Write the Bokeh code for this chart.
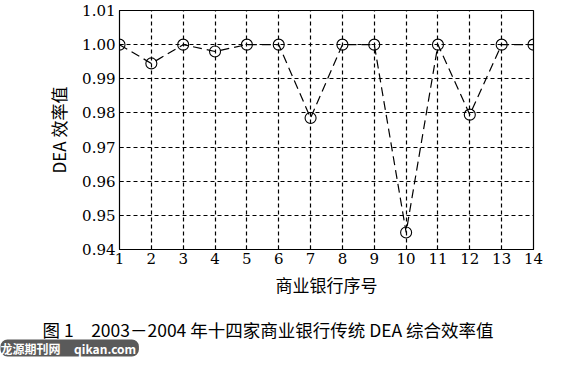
from bokeh.plotting import figure
from bokeh.models import FixedTicker, Range1d, PrintfTickFormatter, Title
from bokeh.embed import file_html
from bokeh.resources import INLINE

banks = list(range(1, 15))
efficiency = [1.000, 0.9945, 1.000, 0.998, 1.000, 1.000, 0.9785,
              1.000, 1.000, 0.945, 1.000, 0.9795, 1.000, 1.000]
y_ticks = [0.94, 0.95, 0.96, 0.97, 0.98, 0.99, 1.00, 1.01]
x_label = "商业银行序号"
y_label = "DEA 效率值"
caption = "图 1　2003－2004 年十四家商业银行传统 DEA 综合效率值"
watermark = "龙源期刊网\u00a0\u00a0\u00a0\u00a0\u00a0qikan.com\u00a0"

p = figure(width=554, height=357, output_backend="svg", toolbar_location=None,
           x_range=Range1d(1, 14), y_range=Range1d(0.94, 1.01),
           min_border_left=119, min_border_right=21, min_border_top=10,
           min_border_bottom=107)

p.line(banks, efficiency, line_color="black", line_width=1.2, line_dash="9 5")
p.scatter(banks, efficiency, marker="circle", size=11, fill_color=None,
          line_color="black", line_width=1.1)

p.xaxis.ticker = FixedTicker(ticks=banks)
p.yaxis.ticker = FixedTicker(ticks=y_ticks)
p.yaxis.formatter = PrintfTickFormatter(format="%.2f")

for ax in (p.xaxis, p.yaxis):
    ax.major_label_text_font = "DejaVu Serif"
    ax.major_label_text_font_size = "15px"
    ax.major_label_text_color = "black"
    ax.axis_line_color = "black"
    ax.major_tick_line_color = "black"
    ax.major_tick_in = 4
    ax.major_tick_out = 0
    ax.minor_tick_line_color = None
    ax.axis_label_text_font = "Noto Sans CJK SC"
    ax.axis_label_text_font_size = "17px"
    ax.axis_label_text_font_style = "normal"
    ax.axis_label_text_color = "black"

p.xaxis.axis_label = x_label
p.yaxis.axis_label = y_label
p.xaxis.major_label_standoff = 3
p.yaxis.major_label_standoff = 4
p.xaxis.axis_label_standoff = 5
p.yaxis.axis_label_standoff = 8

p.xgrid.grid_line_color = "black"
p.ygrid.grid_line_color = "black"
p.xgrid.grid_line_dash = "4 3"
p.ygrid.grid_line_dash = "4 3"
p.xgrid.grid_line_width = 1.2
p.ygrid.grid_line_width = 1.2

p.outline_line_color = "black"
p.outline_line_width = 1.2
p.background_fill_color = "white"
p.border_fill_color = "white"

p.add_layout(Title(text=caption, align="left", offset=-77, standoff=31,
                   text_font="Noto Sans CJK SC", text_font_size="17.5px",
                   text_font_style="normal", text_color="black"), "below")
p.add_layout(Title(text=watermark, align="left", offset=-119, standoff=-36,
                   vertical_align="top",
                   text_font="Noto Sans CJK SC", text_font_size="12px",
                   text_font_style="bold", text_color="white",
                   background_fill_color="#5a5a5a", border_radius=7),
             "below")

open("out.html", "w").write(file_html(p, INLINE))
